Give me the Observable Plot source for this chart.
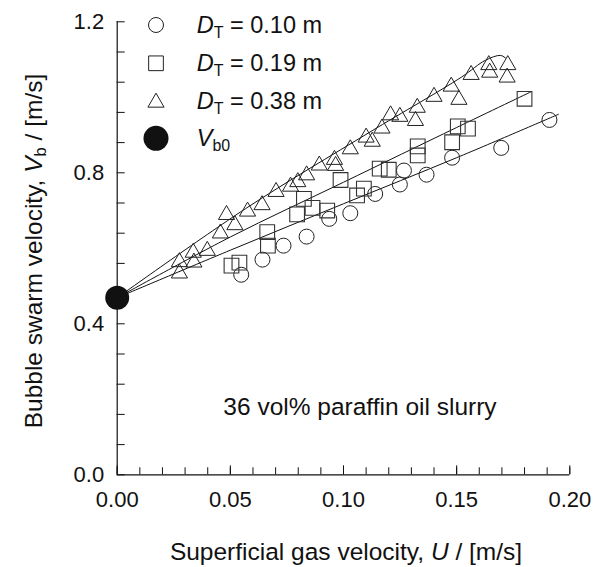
<!DOCTYPE html>
<html><head><meta charset="utf-8">
<script src="https://cdn.jsdelivr.net/npm/d3@7"></script>
<script src="https://cdn.jsdelivr.net/npm/@observablehq/plot@0.6"></script>
<style>
body{margin:0;background:#fff;}
#wrap{position:relative;width:602px;height:567px;}
</style></head><body><div id="wrap"></div>
<script>
// ---- data: [U (m/s), Vb (m/s)] ----
const dt010 = [[0.0548,0.530],[0.0642,0.570],[0.0735,0.607],[0.0837,0.631],[0.0937,0.678],[0.103,0.693],[0.114,0.744],[0.1249,0.769],[0.1267,0.806],[0.1367,0.795],[0.148,0.840],[0.1697,0.866],[0.191,0.940]];
const dt019 = [[0.0505,0.554],[0.054,0.562],[0.0663,0.643],[0.0666,0.607],[0.0795,0.690],[0.0825,0.731],[0.0863,0.707],[0.0928,0.700],[0.0987,0.781],[0.106,0.740],[0.109,0.758],[0.116,0.811],[0.120,0.808],[0.1328,0.870],[0.1328,0.846],[0.148,0.881],[0.1505,0.923],[0.155,0.917],[0.180,0.996]];
const dt038 = [[0.0275,0.539],[0.0275,0.569],[0.0336,0.594],[0.0339,0.568],[0.0398,0.599],[0.0456,0.645],[0.0483,0.694],[0.052,0.667],[0.0576,0.703],[0.064,0.720],[0.0702,0.755],[0.0766,0.769],[0.0798,0.781],[0.0837,0.799],[0.0893,0.825],[0.096,0.840],[0.0965,0.824],[0.103,0.868],[0.110,0.899],[0.1127,0.888],[0.117,0.923],[0.1208,0.958],[0.1249,0.954],[0.1318,0.943],[0.1326,0.978],[0.140,1.007],[0.1476,1.034],[0.151,0.999],[0.1564,1.065],[0.1642,1.091],[0.1646,1.071],[0.1726,1.091],[0.1723,1.058]];
const vb0 = [[0, 0.469]];
const fit010 = [[0,0.469],[0.05,0.595],[0.10,0.718],[0.15,0.840],[0.195,0.955]];
const fit019 = [[0,0.469],[0.05,0.630],[0.10,0.775],[0.15,0.920],[0.183,1.015]];
const fit038 = [[0,0.469],[0.0567,0.705],[0.1117,0.908],[0.152,1.053],[0.1627,1.098],[0.1694,1.111],[0.1716,1.104]];
const xMajorTicks = [0, 0.05, 0.10, 0.15, 0.20];
const xTickLabels = ["0.00","0.05","0.10","0.15","0.20"];
const xMinorTicks = [0,0.01,0.02,0.03,0.04,0.05,0.06,0.07,0.08,0.09,0.10,0.11,0.12,0.13,0.14,0.15,0.16,0.17,0.18,0.19,0.20];
const yMajorTicks = [0, 0.4, 0.8, 1.2];
const yTickLabels = ["0.0","0.4","0.8","1.2"];
const yMinorTicks = [0,0.08,0.16,0.24,0.32,0.40,0.48,0.56,0.64,0.72,0.80,0.88,0.96,1.04,1.12,1.20];
const legendLabels = ["0.10 m","0.19 m","0.38 m"];
const annotation = "36 vol% paraffin oil slurry";

const FONT = "'Liberation Sans', Arial, Helvetica, sans-serif";
const W = 602, H = 567, mL = 116.7, mR = 32.7, mT = 21.3, mB = 92.7;
const pW = W - mL - mR, pH = H - mT - mB;
const INK = "#111";

const chart = Plot.plot({
  width: W, height: H,
  marginLeft: mL, marginRight: mR, marginTop: mT, marginBottom: mB,
  style: {fontFamily: FONT, background: "white", color: INK, overflow: "visible"},
  x: {domain: [0, 0.2], axis: null},
  y: {domain: [0, 1.2], axis: null},
  marks: [
    Plot.tickX(xMinorTicks, {x: d => d, insetTop: pH - 7, stroke: INK, strokeWidth: 1}),
    Plot.tickX(xMajorTicks, {x: d => d, insetTop: pH - 9, stroke: INK, strokeWidth: 1}),
    Plot.tickY(yMinorTicks, {y: d => d, insetRight: pW - 8, stroke: INK, strokeWidth: 1}),
    Plot.axisX(xMajorTicks, {tickSize: 0, tickPadding: 17, tickFormat: (d, i) => xTickLabels[i], fontSize: 22, label: null, fill: INK}),
    Plot.axisY(yMajorTicks, {tickSize: 0, tickPadding: 13, tickFormat: (d, i) => yTickLabels[i], fontSize: 22, label: null, fill: INK}),
    Plot.ruleX([0], {stroke: INK, strokeWidth: 1.2}),
    Plot.ruleY([0], {stroke: INK, strokeWidth: 1.2}),
    Plot.line(fit010, {x: d => d[0], y: d => d[1], curve: "catmull-rom", stroke: INK, strokeWidth: 1}),
    Plot.line(fit019, {x: d => d[0], y: d => d[1], curve: "catmull-rom", stroke: INK, strokeWidth: 1}),
    Plot.line(fit038, {x: d => d[0], y: d => d[1], curve: "catmull-rom", stroke: INK, strokeWidth: 1}),
    Plot.dot(dt010, {x: d => d[0], y: d => d[1], r: 7.5, symbol: "circle", stroke: "#222", strokeWidth: 1, fill: "none"}),
    Plot.dot(dt019, {x: d => d[0], y: d => d[1], r: 8.3, symbol: "square", stroke: "#333", strokeWidth: 1.1, fill: "none"}),
    Plot.dot(dt038, {x: d => d[0], y: d => d[1], r: 6, dy: 2, symbol: "triangle", stroke: "#222", strokeWidth: 1, fill: "none"}),
    Plot.dot(vb0, {x: d => d[0], y: d => d[1], r: 12, fill: INK, stroke: "none"})
  ]
});
document.getElementById("wrap").appendChild(chart);

const svg = d3.select(chart);
function rich(sel, parts, size) {
  parts.forEach(p => {
    const t = sel.append("tspan").text(p.t);
    if (p.italic) t.attr("font-style", "italic");
    if (p.sub) { t.attr("font-size", size * 0.68).attr("dy", size * 0.3); }
    if (p.unsub) t.attr("dy", -size * 0.3);
  });
}
// axis titles
const TS = 24.5;
const yt = svg.append("text").attr("transform", "translate(33,251) rotate(-90)")
  .attr("text-anchor", "middle").attr("dominant-baseline", "central")
  .attr("font-family", FONT).attr("font-size", TS).attr("fill", INK);
rich(yt, [{t: "Bubble swarm velocity, "}, {t: "V", italic: true}, {t: "b", sub: true}, {t: " / [m/s]", unsub: true}], TS);
const xt = svg.append("text").attr("x", 346).attr("y", 551)
  .attr("text-anchor", "middle").attr("dominant-baseline", "central")
  .attr("font-family", FONT).attr("font-size", TS).attr("fill", INK);
rich(xt, [{t: "Superficial gas velocity, "}, {t: "U", italic: true}, {t: " / [m/s]"}], TS);
svg.append("text").attr("x", 360).attr("y", 406).attr("text-anchor", "middle")
  .attr("dominant-baseline", "central").attr("font-family", FONT).attr("font-size", 24.5)
  .attr("fill", INK).text(annotation);

// legend
const lg = svg.append("g").attr("text-anchor", "start");
const rowsY = [25, 63.3, 100.5, 138.3];
const symX = 156, txtX = 196.7, LS = 23.5;
const syms = [
  {type: d3.symbolCircle, r: 7.5},
  {type: d3.symbolSquare, r: 8.3},
  {type: d3.symbolTriangle, r: 6, dy: 2}
];
syms.forEach((s, i) => {
  lg.append("path").attr("d", d3.symbol(s.type, Math.PI * s.r * s.r)())
    .attr("transform", `translate(${symX},${rowsY[i] + (s.dy || 0)})`)
    .attr("fill", "none").attr("stroke", "#222").attr("stroke-width", 1);
  const t = lg.append("text").attr("x", txtX).attr("y", rowsY[i]).attr("dominant-baseline", "central")
    .attr("text-anchor", "start")
    .attr("font-family", FONT).attr("font-size", LS).attr("fill", INK);
  rich(t, [{t: "D", italic: true}, {t: "T", sub: true}, {t: " = " + legendLabels[i], unsub: true}], LS);
});
lg.append("circle").attr("cx", symX).attr("cy", rowsY[3]).attr("r", 12.5).attr("fill", INK);
const tv = lg.append("text").attr("x", txtX).attr("y", rowsY[3]).attr("dominant-baseline", "central")
  .attr("text-anchor", "start")
  .attr("font-family", FONT).attr("font-size", LS).attr("fill", INK);
rich(tv, [{t: "V", italic: true}, {t: "b0", sub: true}], LS);
</script></body></html>
